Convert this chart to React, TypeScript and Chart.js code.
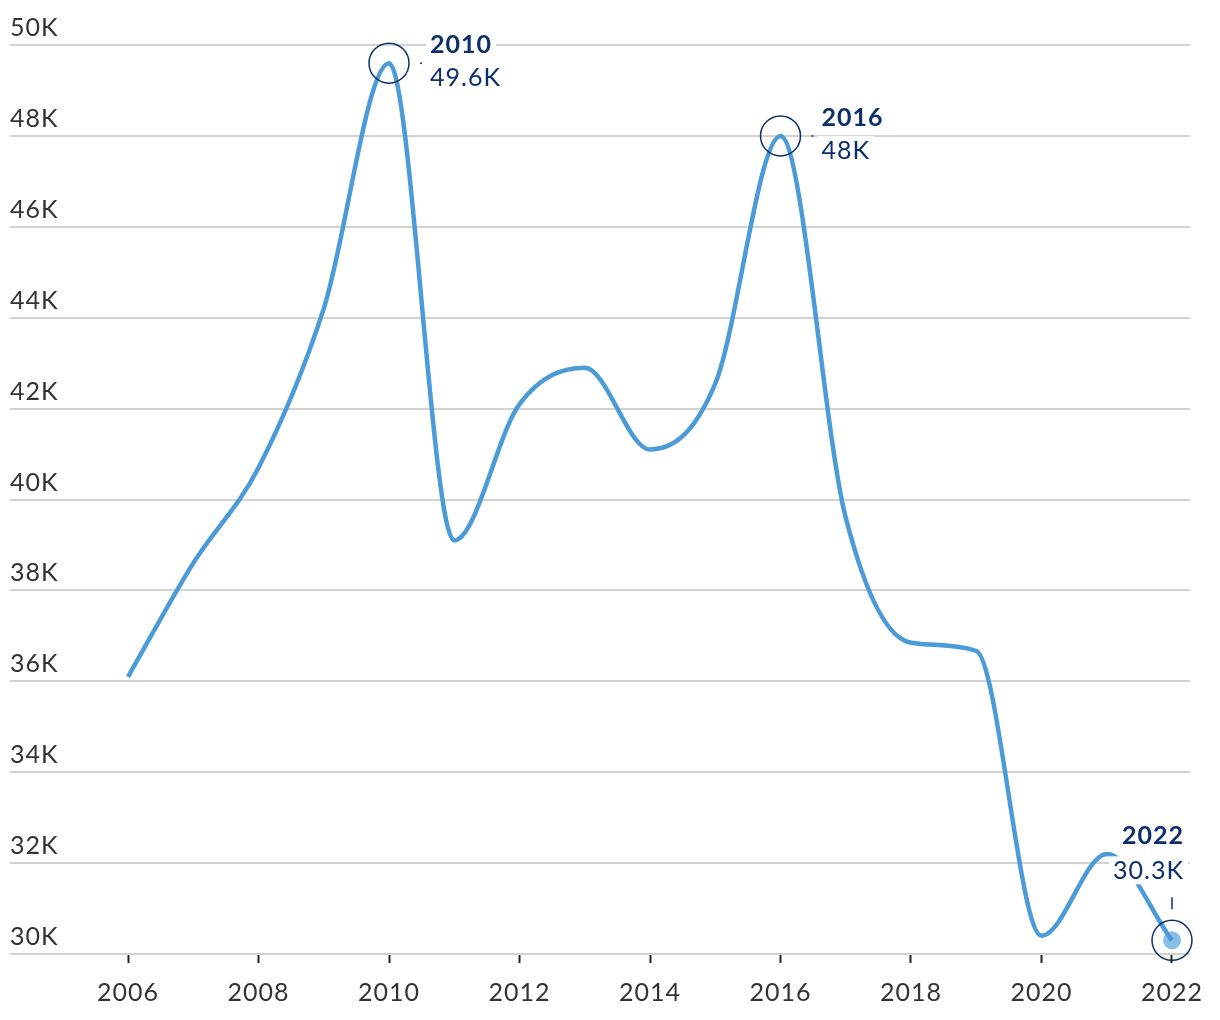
import React, { useEffect, useRef } from "react";
import { Chart, registerables } from "chart.js";

Chart.register(...registerables);

const YEARS = [2006, 2007, 2008, 2009, 2010, 2011, 2012, 2013, 2014, 2015, 2016, 2017, 2018, 2019, 2020, 2021, 2022];
const VALUES_K = [36.1, 38.6, 40.7, 44.2, 49.6, 39.1, 42.1, 42.9, 41.1, 42.55, 48.0, 39.6, 36.85, 36.67, 30.4, 32.2, 30.3];
const X_TICKS = [2006, 2008, 2010, 2012, 2014, 2016, 2018, 2020, 2022];
const Y_TICKS = [30, 32, 34, 36, 38, 40, 42, 44, 46, 48, 50];
const HIGHLIGHT_YEARS = [2010, 2016, 2022];

const LINE_COLOR = "#4a9bd8";
const NAVY = "#0c2e6a";
const FONT = "Lato, 'Open Sans', sans-serif";

const fmtK = (v: number) => `${Number(v.toFixed(1))}K`;

const annotationPlugin = {
  id: "highlights",
  afterDatasetsDraw(chart: any) {
    const ctx = chart.ctx as CanvasRenderingContext2D;
    const xs = chart.scales.x;
    const ys = chart.scales.y;
    ctx.save();
    (ctx as any).letterSpacing = "1px";
    HIGHLIGHT_YEARS.forEach((yr) => {
      const i = YEARS.indexOf(yr);
      const v = VALUES_K[i];
      const cx = xs.getPixelForValue(yr);
      const cy = ys.getPixelForValue(v);
      const isLast = i === YEARS.length - 1;
      const boldFont = `bold 25px ${FONT}`;
      const regFont = `25px ${FONT}`;
      const yearTxt = String(yr);
      const valTxt = fmtK(v);

      if (isLast) {
        ctx.fillStyle = "rgba(74,155,216,0.65)";
        ctx.beginPath();
        ctx.arc(cx, cy, 9, 0, Math.PI * 2);
        ctx.fill();
      }
      ctx.strokeStyle = NAVY;
      ctx.lineWidth = 1.5;
      ctx.beginPath();
      ctx.arc(cx, cy, 20, 0, Math.PI * 2);
      ctx.stroke();

      const drawLabel = (txt: string, font: string, x: number, y: number, align: CanvasTextAlign) => {
        ctx.font = font;
        const w = ctx.measureText(txt).width;
        const left = align === "left" ? x : x - w;
        ctx.fillStyle = "#ffffff";
        ctx.fillRect(left - 4, y - 14, w + 8, 28);
        ctx.fillStyle = NAVY;
        ctx.textAlign = align;
        ctx.textBaseline = "middle";
        ctx.fillText(txt, x, y + 1);
      };

      if (isLast) {
        ctx.strokeStyle = NAVY;
        ctx.lineWidth = 1.5;
        ctx.beginPath();
        ctx.moveTo(cx, cy - 43);
        ctx.lineTo(cx, cy - 31);
        ctx.stroke();
        drawLabel(valTxt, regFont, cx + 12, cy - 70, "right");
        drawLabel(yearTxt, boldFont, cx + 12, cy - 105, "right");
      } else {
        ctx.fillStyle = NAVY;
        ctx.beginPath();
        ctx.arc(cx + 32, cy, 1, 0, Math.PI * 2);
        ctx.fill();
        drawLabel(yearTxt, boldFont, cx + 41, cy - 19, "left");
        drawLabel(valTxt, regFont, cx + 41, cy + 14, "left");
      }
    });
    ctx.restore();
  },
};

const spacingPlugin = {
  id: "spacing",
  beforeDraw(chart: any) {
    (chart.ctx as any).letterSpacing = "1px";
  },
};

export default function App() {
  const ref = useRef<HTMLCanvasElement | null>(null);

  useEffect(() => {
    if (!ref.current) return;
    const zeroPad = (s: any) => {
      s.paddingLeft = 0;
      s.paddingRight = 0;
      s.paddingTop = 0;
      s.paddingBottom = 0;
    };
    const chart = new Chart(ref.current, {
      type: "line",
      data: {
        datasets: [
          {
            data: YEARS.map((y, i) => ({ x: y, y: VALUES_K[i] })),
            borderColor: LINE_COLOR,
            borderWidth: 4.5,
            pointRadius: 0,
            cubicInterpolationMode: "monotone",
            fill: false,
            clip: false as any,
          },
        ],
      },
      options: {
        animation: false,
        responsive: false,
        events: [],
        layout: { padding: { left: 10, right: 30, top: 45, bottom: 0 } },
        plugins: {
          legend: { display: false },
          tooltip: { enabled: false },
        },
        scales: {
          x: {
            type: "linear",
            min: 2006 - 118 / 65.25,
            max: 2022 + 18 / 65.25,
            afterBuildTicks: (s: any) => {
              s.ticks = X_TICKS.map((v) => ({ value: v }));
            },
            afterFit: (s: any) => {
              s.height = 66;
              zeroPad(s);
            },
            border: { display: false },
            grid: {
              display: true,
              drawOnChartArea: false,
              drawTicks: true,
              tickLength: 9,
              tickColor: "#222222",
              tickWidth: 2,
            },
            ticks: {
              color: "#333333",
              font: { family: FONT, size: 25 },
              padding: 15,
              maxRotation: 0,
              autoSkip: false,
              callback: (v: any) => String(v),
            },
          },
          y: {
            type: "linear",
            min: 30,
            max: 50,
            afterBuildTicks: (s: any) => {
              s.ticks = Y_TICKS.map((v) => ({ value: v }));
            },
            afterFit: (s: any) => {
              s.width = 0;
              zeroPad(s);
            },
            border: { display: false },
            grid: {
              color: "#d2d2d2",
              lineWidth: 2,
              drawTicks: false,
            },
            ticks: {
              mirror: true,
              padding: 0,
              labelOffset: -17,
              color: "#333333",
              font: { family: FONT, size: 25 },
              callback: (v: any) => `${v}K`,
            },
          },
        },
      },
      plugins: [spacingPlugin, annotationPlugin],
    });
    return () => chart.destroy();
  }, []);

  return (
    <div style={{ position: "absolute", left: 0, top: 0, width: 1220, height: 1020, background: "#ffffff" }}>
      <canvas ref={ref} width={1220} height={1020} style={{ width: 1220, height: 1020, display: "block" }} />
    </div>
  );
}
